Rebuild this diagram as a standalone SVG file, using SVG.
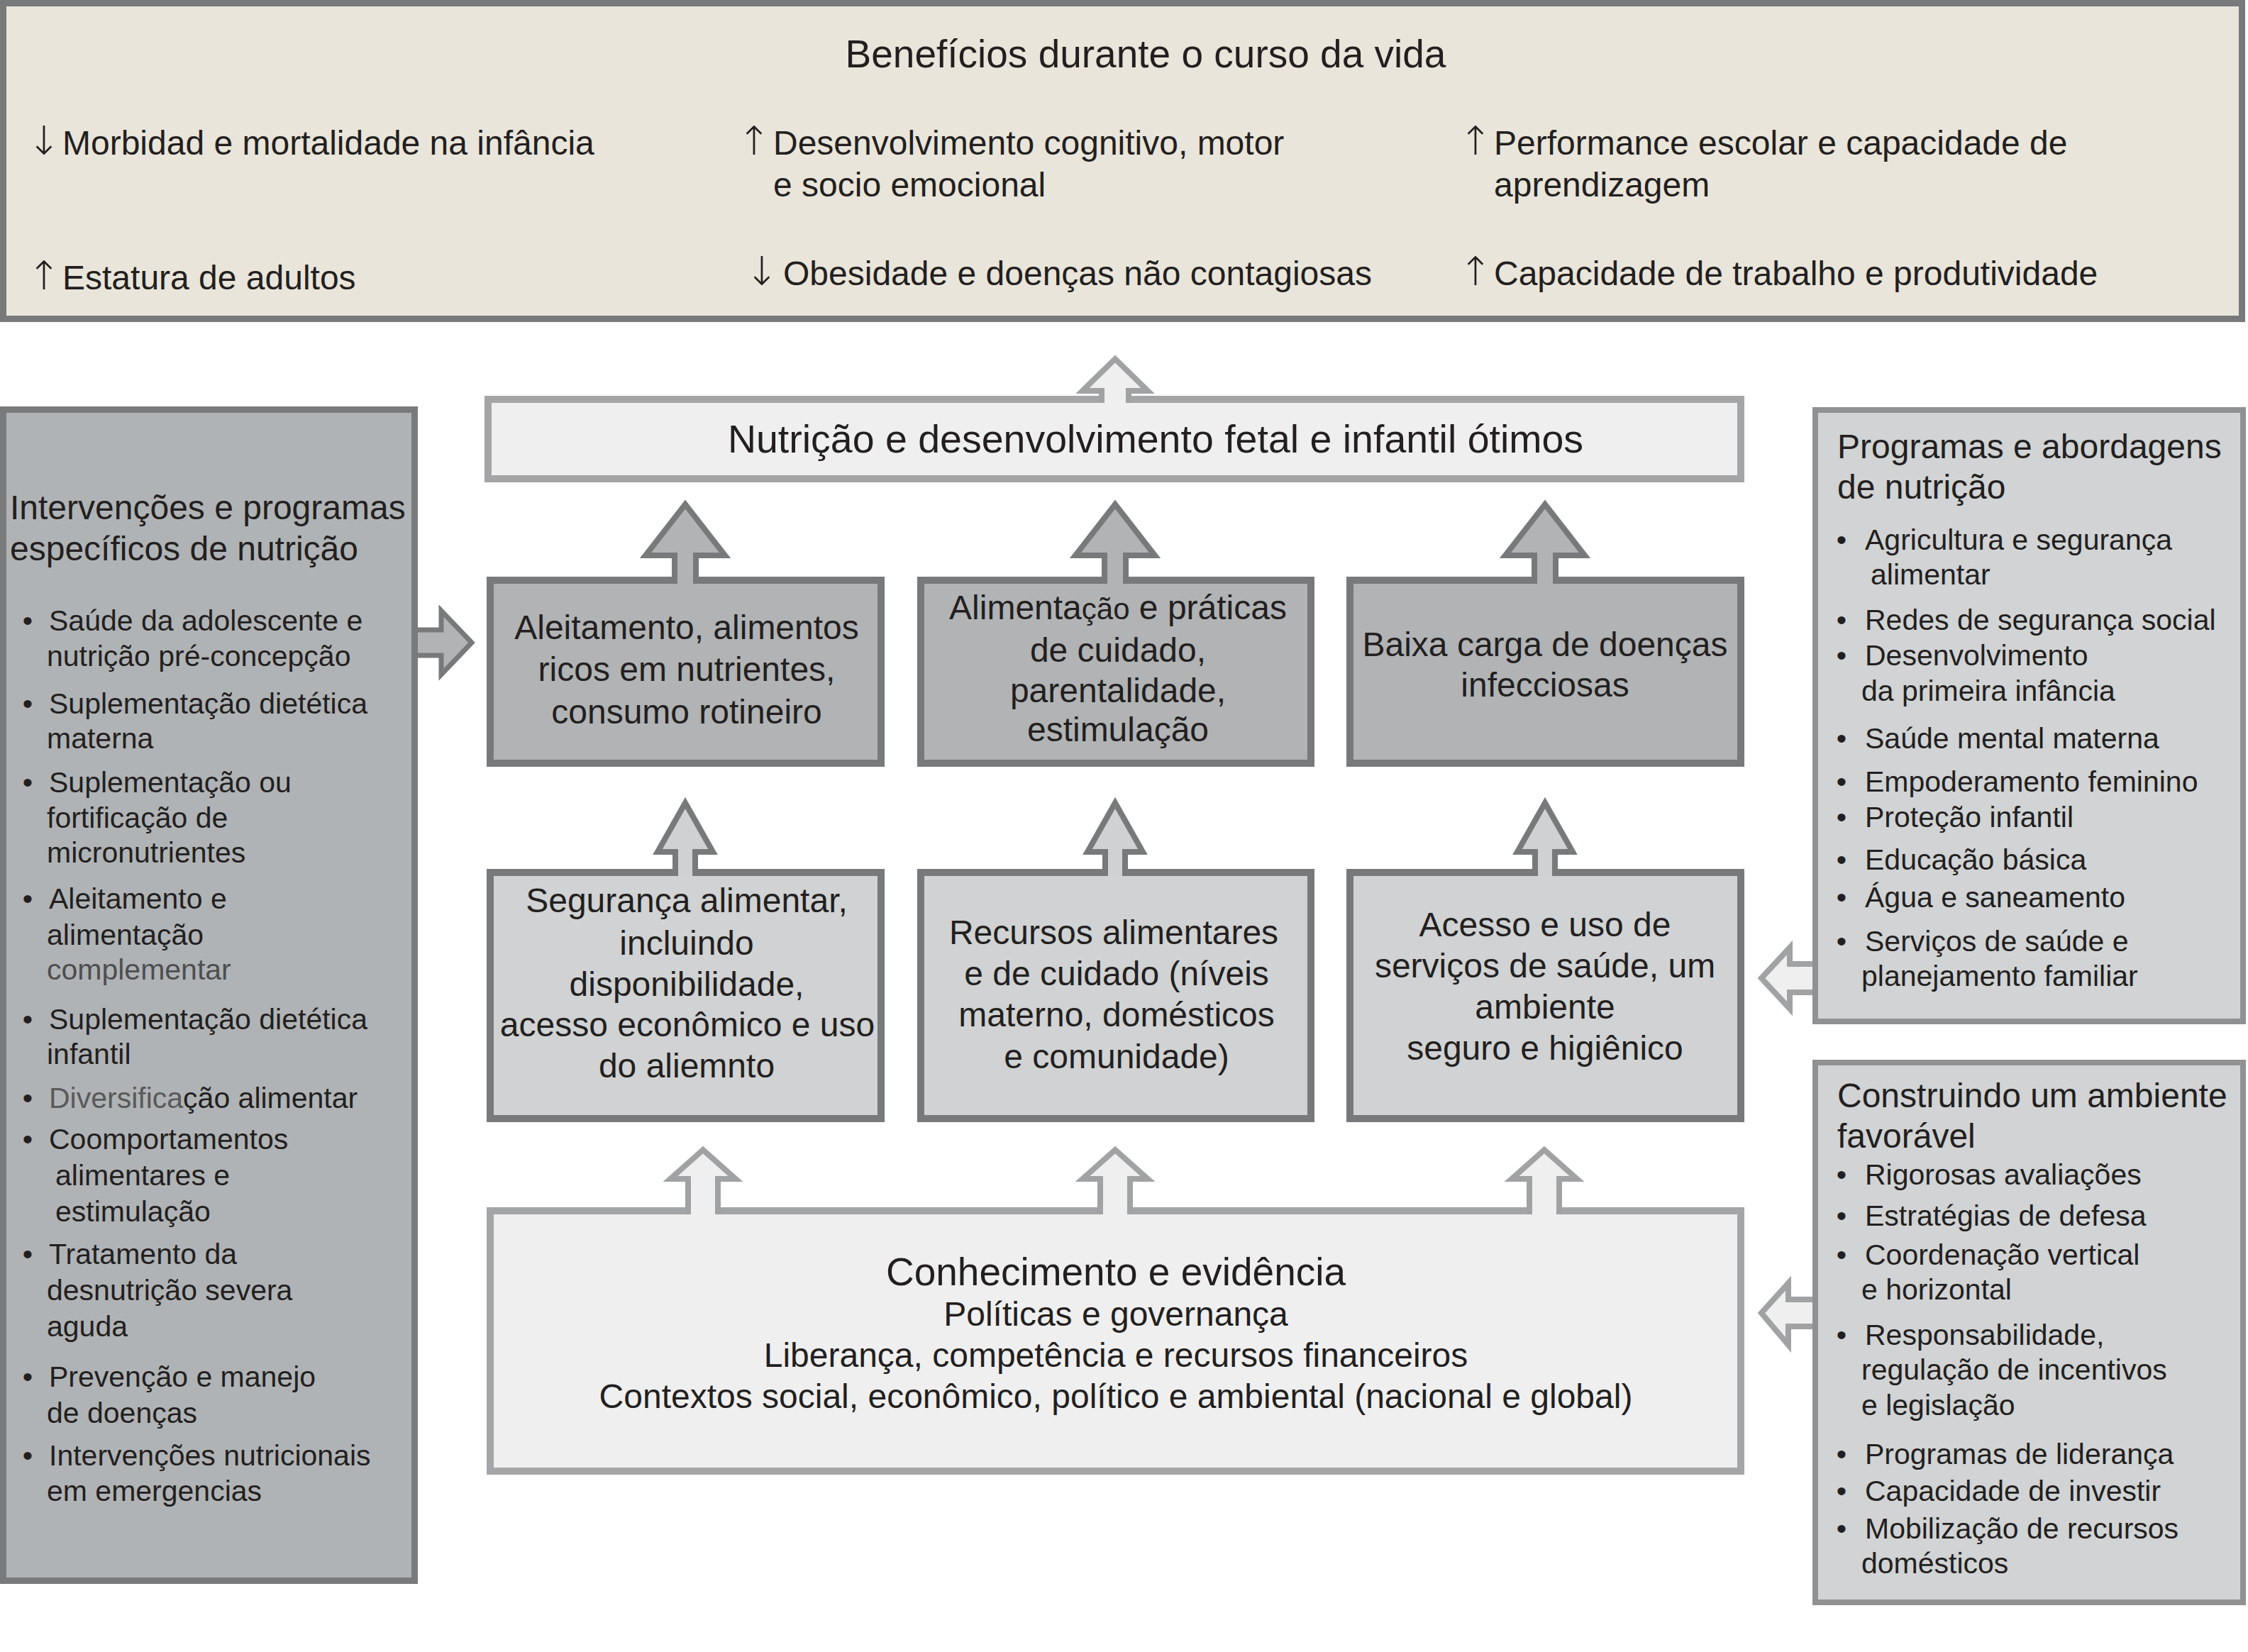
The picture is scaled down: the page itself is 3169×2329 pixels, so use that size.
<svg xmlns="http://www.w3.org/2000/svg" width="3169" height="2329" viewBox="0 0 3169 2329">
<style>
text{font-family:"Liberation Sans",Arial,Helvetica,sans-serif;fill:#231f20}
.t48{font-size:48px}
.t41{font-size:41px}
.c{text-anchor:middle}
.ar{font-family:"DejaVu Sans",sans-serif;font-size:56px;font-weight:200;text-anchor:middle}
.dark{fill:#b1b3b5;stroke:#77797b;stroke-width:10}
.mid{fill:#d0d2d3;stroke:#77797b;stroke-width:10}
.light{fill:#efefef;stroke:#a3a5a7;stroke-width:10}
.side{fill:#d1d3d4;stroke:#8f9193;stroke-width:8}
.adark{fill:#b1b3b5;stroke:#77797b;stroke-width:8;stroke-linejoin:miter}
.amid{fill:#cfd1d3;stroke:#77797b;stroke-width:8;stroke-linejoin:miter}
.alight{fill:#efefef;stroke:#a0a2a4;stroke-width:8;stroke-linejoin:miter}
</style>
<rect width="3169" height="2329" fill="#ffffff"/>

<g id="beneficios">
<rect x="4.5" y="4.5" width="3156" height="445" fill="#e9e5da" stroke="#77797b" stroke-width="9"/>
<text class="c" x="1615" y="95" style="font-size:55px">Benefícios durante o curso da vida</text>
<text class="ar" x="62" y="218">↓</text>
<text class="t48" x="88" y="218">Morbidad e mortalidade na infância</text>
<text class="ar" x="1063" y="218">↑</text>
<text class="t48" x="1090" y="218">Desenvolvimento cognitivo, motor</text>
<text class="t48" x="1090" y="277">e socio emocional</text>
<text class="ar" x="2080" y="218">↑</text>
<text class="t48" x="2106" y="218">Performance escolar e capacidade de</text>
<text class="t48" x="2106" y="277">aprendizagem</text>
<text class="ar" x="62" y="408">↑</text>
<text class="t48" x="88" y="408">Estatura de adultos</text>
<text class="ar" x="1074" y="402">↓</text>
<text class="t48" x="1104" y="402">Obesidade e doenças não contagiosas</text>
<text class="ar" x="2080" y="402">↑</text>
<text class="t48" x="2106" y="402">Capacidade de trabalho e produtividade</text>
</g>

<g id="intervencoes">
<rect x="4.5" y="577.5" width="580" height="1651" fill="#b0b3b5" stroke="#787a7c" stroke-width="9"/>
<text class="t48" x="14" y="732">Intervenções e programas</text>
<text class="t48" x="14" y="790">específicos de nutrição</text>
<g class="t41">
<text x="39" y="889" class="c">•</text><text x="69" y="889">Saúde da adolescente e</text>
<text x="66" y="939">nutrição pré-concepção</text>
<text x="39" y="1006" class="c">•</text><text x="69" y="1006">Suplementação dietética</text>
<text x="66" y="1055">materna</text>
<text x="39" y="1117" class="c">•</text><text x="69" y="1117">Suplementação ou</text>
<text x="66" y="1167">fortificação de</text>
<text x="66" y="1216">micronutrientes</text>
<text x="39" y="1281" class="c">•</text><text x="69" y="1281">Aleitamento e</text>
<text x="66" y="1332">alimentação</text>
<text x="66" y="1381" style="fill:#4d4e50">complementar</text>
<text x="39" y="1451" class="c">•</text><text x="69" y="1451">Suplementação dietética</text>
<text x="66" y="1500">infantil</text>
<text x="39" y="1562" class="c">•</text><text x="69" y="1562"><tspan style="fill:#58595b">Diversifica</tspan>ção alimentar</text>
<text x="39" y="1620" class="c">•</text><text x="69" y="1620">Coomportamentos</text>
<text x="78" y="1671">alimentares e</text>
<text x="78" y="1722">estimulação</text>
<text x="39" y="1782" class="c">•</text><text x="69" y="1782">Tratamento da</text>
<text x="66" y="1833">desnutrição severa</text>
<text x="66" y="1884">aguda</text>
<text x="39" y="1955" class="c">•</text><text x="69" y="1955">Prevenção e manejo</text>
<text x="66" y="2006">de doenças</text>
<text x="39" y="2066" class="c">•</text><text x="69" y="2066">Intervenções nutricionais</text>
<text x="66" y="2116">em emergencias</text>
</g>
</g>

<g id="nutricao-otima">
<rect class="light" x="688" y="563" width="1766" height="112"/>
<text class="c" x="1629" y="638" style="font-size:55.5px">Nutrição e desenvolvimento fetal e infantil ótimos</text>
</g>

<g id="aleitamento">
<rect class="dark" x="691" y="818" width="551" height="258"/>
<text class="t48 c" x="968" y="901">Aleitamento, alimentos</text>
<text class="t48 c" x="968" y="960">ricos em nutrientes,</text>
<text class="t48 c" x="968" y="1020">consumo rotineiro</text>
</g>
<g id="alimentacao-praticas">
<rect class="dark" x="1298" y="818" width="550" height="258"/>
<text class="t48 c" x="1576" y="873">Alimenta<tspan style="font-size:42px">ção</tspan> e práticas</text>
<text class="t48 c" x="1576" y="933">de cuidado,</text>
<text class="t48 c" x="1576" y="990">parentalidade,</text>
<text class="t48 c" x="1576" y="1045">estimulação</text>
</g>
<g id="baixa-carga">
<rect class="dark" x="1903" y="818" width="551" height="258"/>
<text class="t48 c" x="2178" y="925">Baixa carga de doenças</text>
<text class="t48 c" x="2178" y="982">infecciosas</text>
</g>

<g id="seguranca">
<rect class="mid" x="691" y="1230" width="551" height="347"/>
<text class="t48 c" x="968" y="1286">Segurança alimentar,</text>
<text class="t48 c" x="968" y="1346">incluindo</text>
<text class="t48 c" x="968" y="1404">disponibilidade,</text>
<text class="t48 c" x="969" y="1461">acesso econômico e uso</text>
<text class="t48 c" x="968" y="1519">do aliemnto</text>
</g>
<g id="recursos">
<rect class="mid" x="1298" y="1230" width="550" height="347"/>
<text class="t48 c" x="1570" y="1331">Recursos alimentares</text>
<text class="t48 c" x="1574" y="1389">e de cuidado (níveis</text>
<text class="t48 c" x="1574" y="1447">materno, domésticos</text>
<text class="t48 c" x="1574" y="1506">e comunidade)</text>
</g>
<g id="acesso">
<rect class="mid" x="1903" y="1230" width="551" height="347"/>
<text class="t48 c" x="2178" y="1320">Acesso e uso de</text>
<text class="t48 c" x="2178" y="1378">serviços de saúde, um</text>
<text class="t48 c" x="2178" y="1436">ambiente</text>
<text class="t48 c" x="2178" y="1494">seguro e higiênico</text>
</g>

<g id="conhecimento">
<rect class="light" x="691" y="1707" width="1763" height="367"/>
<text class="c" x="1573" y="1812" style="font-size:55px">Conhecimento e evidência</text>
<text class="t48 c" x="1573" y="1869">Políticas e governança</text>
<text class="t48 c" x="1573" y="1927">Liberança, competência e recursos financeiros</text>
<text class="t48 c" x="1573" y="1985">Contextos social, econômico, político e ambiental (nacional e global)</text>
</g>

<g id="programas-abordagens">
<rect class="side" x="2559" y="578" width="603" height="862"/>
<text class="t48" x="2590" y="646">Programas e abordagens</text>
<text class="t48" x="2590" y="703">de nutrição</text>
<g class="t41">
<text x="2596" y="775" class="c">•</text><text x="2629" y="775">Agricultura e segurança</text>
<text x="2637" y="824">alimentar</text>
<text x="2596" y="888" class="c">•</text><text x="2629" y="888">Redes de segurança social</text>
<text x="2596" y="938" class="c">•</text><text x="2629" y="938">Desenvolvimento</text>
<text x="2624" y="988">da primeira infância</text>
<text x="2596" y="1055" class="c">•</text><text x="2629" y="1055">Saúde mental materna</text>
<text x="2596" y="1116" class="c">•</text><text x="2629" y="1116">Empoderamento feminino</text>
<text x="2596" y="1166" class="c">•</text><text x="2629" y="1166">Proteção infantil</text>
<text x="2596" y="1226" class="c">•</text><text x="2629" y="1226">Educação básica</text>
<text x="2596" y="1279" class="c">•</text><text x="2629" y="1279">Água e saneamento</text>
<text x="2596" y="1341" class="c">•</text><text x="2629" y="1341">Serviços de saúde e</text>
<text x="2624" y="1390">planejamento familiar</text>
</g>
</g>

<g id="ambiente-favoravel">
<rect class="side" x="2559" y="1498" width="603" height="761"/>
<text class="t48" x="2590" y="1561">Construindo um ambiente</text>
<text class="t48" x="2590" y="1618">favorável</text>
<g class="t41">
<text x="2596" y="1670" class="c">•</text><text x="2629" y="1670">Rigorosas avaliações</text>
<text x="2596" y="1728" class="c">•</text><text x="2629" y="1728">Estratégias de defesa</text>
<text x="2596" y="1783" class="c">•</text><text x="2629" y="1783">Coordenação vertical</text>
<text x="2624" y="1832">e horizontal</text>
<text x="2596" y="1896" class="c">•</text><text x="2629" y="1896">Responsabilidade,</text>
<text x="2624" y="1945">regulação de incentivos</text>
<text x="2624" y="1995">e legislação</text>
<text x="2596" y="2064" class="c">•</text><text x="2629" y="2064">Programas de liderança</text>
<text x="2596" y="2116" class="c">•</text><text x="2629" y="2116">Capacidade de investir</text>
<text x="2596" y="2169" class="c">•</text><text x="2629" y="2169">Mobilização de recursos</text>
<text x="2624" y="2218">domésticos</text>
</g>
</g>

<g id="connectors">
<path class="alight" d="M1553,568 V551 H1526 L1572,506 L1618,551 H1591 V568"/>
<path class="adark" d="M951,823 V783 H910 L966,711 L1022,783 H981 V823"/>
<path class="adark" d="M1557,823 V783 H1516 L1572,711 L1628,783 H1587 V823"/>
<path class="adark" d="M2163,823 V783 H2122 L2178,711 L2234,783 H2193 V823"/>
<path class="amid" d="M952,1235 V1201 H927 L966,1132 L1005,1201 H980 V1235"/>
<path class="amid" d="M1558,1235 V1201 H1533 L1572,1132 L1611,1201 H1586 V1235"/>
<path class="amid" d="M2164,1235 V1201 H2139 L2178,1132 L2217,1201 H2192 V1235"/>
<path class="alight" d="M970,1712 V1662 H945 L991,1621 L1037,1662 H1012 V1712"/>
<path class="alight" d="M1551,1712 V1662 H1526 L1572,1621 L1618,1662 H1593 V1712"/>
<path class="alight" d="M2156,1712 V1662 H2131 L2177,1621 L2223,1662 H2198 V1712"/>
<path class="adark" style="stroke-width:7" d="M589,888 H622 V861 L665,906 L622,951 V924 H589"/>
<path class="alight" d="M2555,1359 H2523 V1336 L2483,1379 L2523,1422 V1399 H2555"/>
<path class="alight" d="M2555,1832 H2521 V1809 L2483,1851 L2521,1896 V1870 H2555"/>
</g>
</svg>
